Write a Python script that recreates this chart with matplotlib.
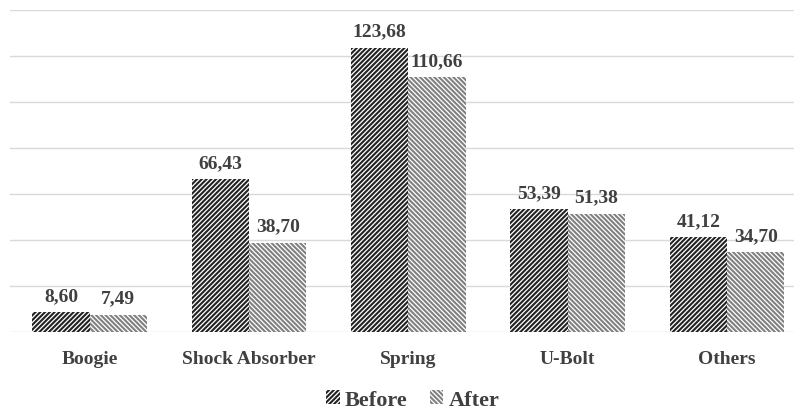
import matplotlib.pyplot as plt
import numpy as np

categories = ["Boogie", "Shock Absorber", "Spring", "U-Bolt", "Others"]
before = [8.60, 66.43, 123.68, 53.39, 41.12]
after = [7.49, 38.70, 110.66, 51.38, 34.70]

plt.rcParams['font.family'] = ['Liberation Serif', 'DejaVu Serif']
plt.rcParams['hatch.linewidth'] = 1.5

fig = plt.figure(figsize=(7.94, 4.14), dpi=100)
ax = fig.add_axes([10 / 794, 81 / 414, 1 - 10 / 794, 322 / 414])

x = np.arange(len(categories))
w = 0.36
b1 = ax.bar(x - w / 2, before, w, facecolor='white', edgecolor='#222222',
            hatch='/' * 7, linewidth=0, label='Before')
b2 = ax.bar(x + w / 2, after, w, facecolor='white', edgecolor='#808080',
            hatch='\\' * 7, linewidth=0, label='After')

def fmt(v):
    return f"{v:.2f}".replace('.', ',')

for bars, vals in ((b1, before), (b2, after)):
    for bar, v in zip(bars, vals):
        ax.annotate(fmt(v), (bar.get_x() + bar.get_width() / 2, v),
                    xytext=(0, 6), textcoords='offset points', ha='center',
                    va='bottom', fontsize=14, fontweight='bold', color='#404040')

ax.set_ylim(0, 140)
ax.set_yticks(np.arange(0, 141, 20))
ax.set_xlim(-0.5, 4.42)
ax.yaxis.grid(True, color='#d9d9d9', linewidth=1)
ax.set_axisbelow(True)
ax.tick_params(axis='y', left=False, labelleft=False)
ax.tick_params(axis='x', length=0, pad=13)
ax.set_xticks(x)
ax.set_xticklabels(categories, fontsize=14, fontweight='bold', color='#404040')
for s in ax.spines.values():
    s.set_visible(False)

fig.legend(handles=[b1, b2], loc='center', bbox_to_anchor=(413 / 794, 1 - 401 / 414),
           ncol=2, frameon=False, handlelength=0.6, handleheight=0.6,
           handletextpad=0.25, columnspacing=1.0,
           prop={'size': 16, 'weight': 'bold'}, labelcolor='#404040')

fig.savefig("out.png", dpi=100)
